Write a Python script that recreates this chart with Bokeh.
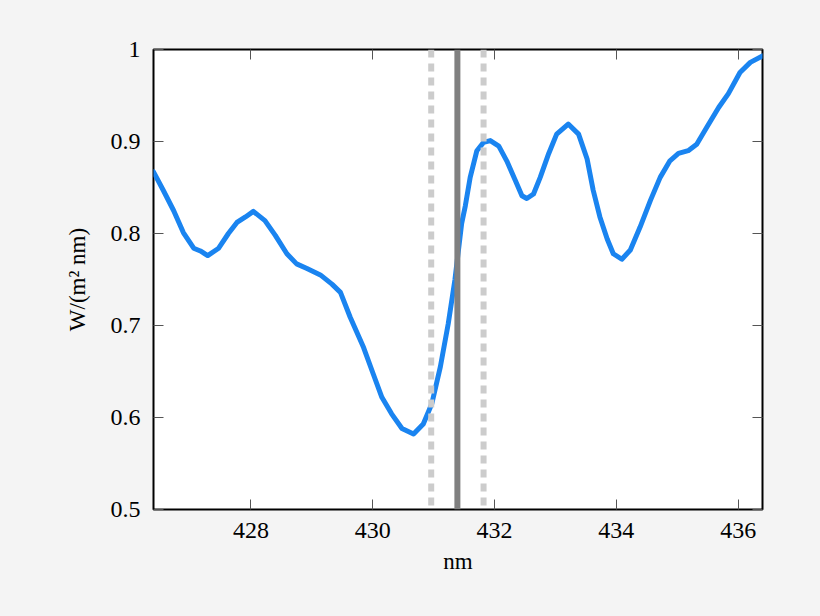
from bokeh.plotting import figure
from bokeh.models import Range1d, FixedTicker, LinearAxis, Span, CustomJSTickFormatter
from bokeh.embed import file_html
from bokeh.resources import INLINE

# spectrum
wavelength = [426.40, 426.56, 426.73, 426.89, 427.06, 427.17, 427.29, 427.47, 427.63, 427.77,
              427.91, 428.04, 428.23, 428.40, 428.59, 428.75, 428.92, 429.14, 429.33, 429.47,
              429.63, 429.85, 430.01, 430.15, 430.31, 430.48, 430.67, 430.83, 430.97, 431.11,
              431.24, 431.35, 431.46, 431.52, 431.60, 431.71, 431.82, 431.93, 432.07, 432.20,
              432.34, 432.45, 432.53, 432.64, 432.75, 432.89, 433.02, 433.21, 433.38, 433.52,
              433.62, 433.73, 433.85, 433.95, 434.09, 434.23, 434.39, 434.56, 434.72, 434.88,
              435.02, 435.18, 435.32, 435.49, 435.68, 435.84, 436.03, 436.20, 436.40]
irradiance = [0.867, 0.847, 0.825, 0.801, 0.784, 0.781, 0.776, 0.784, 0.800, 0.812,
              0.818, 0.824, 0.814, 0.798, 0.778, 0.767, 0.762, 0.755, 0.745, 0.736,
              0.709, 0.676, 0.647, 0.622, 0.604, 0.588, 0.582, 0.593, 0.615, 0.655,
              0.702, 0.750, 0.811, 0.830, 0.861, 0.890, 0.899, 0.901, 0.895, 0.879,
              0.858, 0.841, 0.838, 0.843, 0.861, 0.887, 0.908, 0.919, 0.908, 0.881,
              0.847, 0.818, 0.794, 0.778, 0.772, 0.782, 0.807, 0.836, 0.861, 0.879,
              0.887, 0.890, 0.897, 0.916, 0.937, 0.952, 0.975, 0.986, 0.993]

line_center = 431.39
line_bounds = [430.96, 431.82]

x_ticks = [428, 430, 432, 434, 436]
y_ticks = [0.5, 0.6, 0.7, 0.8, 0.9, 1.0]

FONT = "Liberation Serif"
BG = "#f4f4f4"

p = figure(width=820, height=616, output_backend="svg", toolbar_location=None,
           x_range=Range1d(426.4, 436.4), y_range=Range1d(0.5, 1.0),
           min_border_left=153, min_border_right=58, min_border_top=49, min_border_bottom=107)
p.background_fill_color = "white"
p.border_fill_color = BG
p.outline_line_color = "black"
p.outline_line_width = 2
p.grid.visible = False

for b in line_bounds:
    p.add_layout(Span(location=b, dimension="height", line_color="#cccccc",
                      line_width=6, line_dash="8 6"))
p.add_layout(Span(location=line_center, dimension="height", line_color="#808080", line_width=6))

p.line(wavelength, irradiance, line_color="#1a84f0", line_width=5,
       line_join="round", line_cap="round")

def style(ax, ticks, labels=True):
    ax.ticker = FixedTicker(ticks=ticks)
    ax.axis_line_color = None
    ax.major_tick_in = 10
    ax.major_tick_out = 0
    ax.major_tick_line_color = "#555555"
    ax.minor_tick_line_color = None
    ax.major_label_text_font = FONT
    ax.major_label_text_font_size = "24px"
    ax.major_label_text_color = "black"
    ax.major_label_standoff = 13
    ax.axis_label_text_font = FONT
    ax.axis_label_text_font_size = "23px"
    ax.axis_label_text_font_style = "normal"
    ax.axis_label_text_color = "black"
    if not labels:
        ax.formatter = CustomJSTickFormatter(code="return ''")
        ax.major_label_standoff = 0

style(p.xaxis[0], x_ticks)
style(p.yaxis[0], y_ticks)
p.xaxis[0].axis_label = "nm"
p.xaxis[0].axis_label_standoff = 8
p.yaxis[0].axis_label = "W/(m² nm)"
p.yaxis[0].axis_label_standoff = 18
p.yaxis[0].major_label_overrides = {1: "1"}

top = LinearAxis()
style(top, x_ticks, labels=False)
p.add_layout(top, "above")
right = LinearAxis()
style(right, y_ticks, labels=False)
p.add_layout(right, "right")

html = file_html(p, INLINE)
html = html.replace("</head>", "<style>html, body { background: %s; }</style></head>" % BG, 1)
open("out.html", "w").write(html)
